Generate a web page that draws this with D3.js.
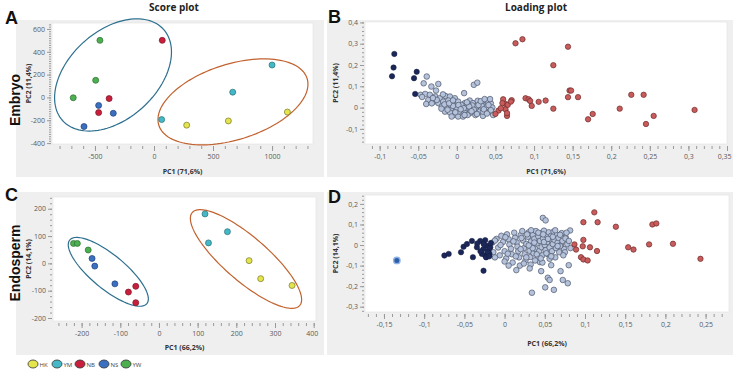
<!DOCTYPE html>
<html lang="en">
<head>
<meta charset="UTF-8">
<title>PCA score and loading plots</title>
<script src="https://d3js.org/d3.v7.min.js"></script>
<style>
body { margin: 0; background: #fff; }
text { font-family: "Open Sans", sans-serif; }
.tick line { stroke: #9a9a9a; }
.tick text { fill: #5a5a5a; font-size: 7px; }
</style>
</head>
<body>
<div id="chart"></div>
<script>
// ---- data ----
var groups = ["HK", "YM", "NB", "NS", "YW"];
var groupFill = ["#e4e44c", "#44b8c6", "#c8203c", "#3b6fc0", "#4caf50"];
var groupStroke = ["#77772a", "#2b7079", "#7a1324", "#203f78", "#2c6c2f"];

// score plot A (embryo): [PC1, PC2, group]
var embryoScores = [
  [277, -243, "HK"], [630, -206, "HK"], [1130, -128, "HK"],
  [65, -194, "YM"], [667, 46, "YM"], [1000, 284, "YM"],
  [70, 500, "NB"], [-380, -10, "NB"], [-469, -133, "NB"],
  [-469, -70, "NS"], [-345, -139, "NS"], [-593, -255, "NS"],
  [-458, 500, "YW"], [-494, 150, "YW"], [-684, -3, "YW"]
];
// score plot C (endosperm)
var endoScores = [
  [233, 10, "HK"], [263, -56, "HK"], [344, -81, "HK"],
  [119, 181, "YM"], [128, 75, "YM"], [177, 116, "YM"],
  [-79, -105, "NB"], [-60, -84, "NB"], [-60, -144, "NB"],
  [-173, 18, "NS"], [-166, -10, "NS"], [-114, -75, "NS"],
  [-221, 73, "YW"], [-211, 73, "YW"], [-183, 49, "YW"]
];
// confidence ellipses: centre, semi-axis vector u, semi-axis vector v (data units)
var embryoEllipses = [
  {c: [-347, 197], u: [428, 399], v: [-249, 287], color: "#2d6f8e"},
  {c: [669, -39], u: [628, 205], v: [-96, 316], color: "#c2622e"}
];
var endoEllipses = [
  {c: [-131, -31], u: [99.7, -116.5], v: [27.9, 48], color: "#2d6f8e"},
  {c: [225, 16], u: [139, -170], v: [37, 61], color: "#c2622e"}
];

// loading plot B (embryo)
var embryoLoadNavy = [[-0.081, 0.252], [-0.082, 0.188], [-0.084, 0.147], [-0.052, 0.168], [-0.0555, 0.138], [-0.054, 0.064]];
var embryoLoadGray = [
  [-0.039, 0.146], [-0.043, 0.114], [-0.033, 0.099], [-0.024, 0.111], [-0.027, 0.080], [0.022, 0.107], [0.0265, 0.117],
  [0.0094, 0.068], [-0.047, 0.060], [-0.041, 0.064], [-0.035, 0.060], [-0.028, 0.052], [-0.037, 0.036], [-0.030, 0.028],
  [-0.022, 0.044], [-0.015, 0.055], [-0.009, 0.052], [-0.0026, 0.044], [-0.024, 0.021], [-0.0176, 0.028], [-0.011, 0.033],
  [-0.0047, 0.021], [0.0017, 0.028], [0.0038, 0.005], [-0.0196, 0.005], [-0.0132, 0.005], [-0.0068, -0.003], [-0.0004, -0.011],
  [-0.0154, -0.019], [-0.009, -0.023], [-0.0026, -0.034], [0.006, -0.026], [0.0103, -0.011], [0.0145, 0.013], [0.0103, 0.021],
  [0.0167, 0.033], [0.0209, 0.021], [0.0188, -0.003], [0.0252, 0.005], [0.0295, 0.021], [0.0316, -0.003], [0.0359, 0.028],
  [0.038, 0.013], [0.040, 0.033], [0.0423, -0.003], [0.0368, -0.019], [0.0295, -0.019], [0.0231, -0.023], [0.0167, -0.026],
  [0.0017, -0.042], [0.008, -0.042], [-0.0068, -0.042], [0.0338, -0.039], [-0.0397, 0.017], [-0.0325, 0.02], [-0.026, 0.036],
  [0.0401, 0.028], [0.0381, 0.002], [0.0338, -0.019], [0.044, 0.02], [0.046, 0.0], [0.045, -0.02], [0.043, 0.04],
  [0.047, -0.035], [0.006, 0.012], [-0.008, 0.012], [0.012, 0.0], [0.027, 0.032], [-0.018, 0.062], [0.003, -0.018],
  [0.02, 0.01], [-0.012, -0.01], [0.032, 0.01], [0.0, 0.0], [0.014, -0.035], [0.024, -0.035],
  [-0.02, -0.005], [-0.016, 0.015], [-0.005, 0.008], [0.002, 0.012], [0.009, -0.003], [0.016, 0.005], [0.022, -0.01],
  [0.028, 0.012], [0.035, -0.008], [0.041, 0.012], [0.044, -0.012], [0.005, -0.008], [-0.01, 0.02], [0.013, 0.025],
  [0.026, -0.03], [0.031, 0.03], [-0.002, -0.022], [0.019, -0.017], [0.036, 0.04], [-0.031, 0.045], [-0.045, 0.05],
  [0.01, -0.035], [0.039, -0.028], [-0.005, 0.034]
];
var embryoLoadRed = [
  [0.076, 0.302], [0.085, 0.321], [0.144, 0.286], [0.125, 0.199], [0.146, 0.080], [0.148, 0.080], [0.144, 0.049],
  [0.157, 0.049], [0.060, 0.039], [0.071, 0.035], [0.089, 0.044], [0.093, 0.039], [0.095, 0.031], [0.097, 0.008],
  [0.106, 0.027], [0.115, 0.033], [0.063, 0.017], [0.063, -0.008], [0.054, -0.014], [0.050, -0.030], [0.065, -0.039],
  [0.125, -0.005], [0.226, 0.060], [0.242, 0.060], [0.176, -0.030], [0.170, -0.055], [0.211, -0.005], [0.255, -0.039],
  [0.245, -0.077], [0.308, -0.011], [0.059, 0.021], [0.066, 0.013], [0.057, -0.003], [0.065, -0.026], [0.070, 0.028]
];

// loading plot D (endosperm)
var endoLoadOutlier = [[-0.134, -0.075]];
var endoLoadNavy = [
  [-0.0749, -0.051], [-0.0695, -0.043], [-0.0542, -0.035], [-0.051, -0.008], [-0.0468, 0.005], [-0.0406, 0.02],
  [-0.0394, -0.059], [-0.0262, -0.125], [-0.0344, -0.011], [-0.0303, 0.02], [-0.0241, 0.024], [-0.0262, -0.019],
  [-0.0241, -0.051], [-0.02, -0.027], [-0.022, -0.003], [-0.0282, -0.043], [-0.0188, -0.043], [-0.026, 0.005],
  [-0.021, -0.035], [-0.018, -0.012], [-0.03, -0.03], [-0.023, -0.06], [-0.017, 0.01], [-0.034, 0.008], [-0.019, -0.055]
];
var endoLoadGray = [
  [-0.018, -0.01], [-0.015, 0.012], [-0.014, -0.035], [-0.01, 0.03], [-0.008, -0.012], [-0.006, -0.05], [-0.004, 0.045],
  [-0.002, 0.015], [0.0, -0.03], [0.002, -0.065], [0.003, 0.052], [0.005, 0.028], [0.006, 0.002], [0.008, -0.018],
  [0.009, -0.045], [0.01, -0.085], [0.012, 0.06], [0.013, 0.035], [0.015, 0.012], [0.016, -0.008], [0.017, -0.03],
  [0.018, -0.06], [0.019, -0.1], [0.02, 0.048], [0.022, 0.068], [0.023, 0.022], [0.024, -0.015], [0.025, -0.045],
  [0.026, -0.075], [0.027, 0.005], [0.029, 0.04], [0.03, 0.062], [0.031, -0.028], [0.032, -0.058], [0.033, 0.018],
  [0.034, -0.005], [0.035, 0.05], [0.036, -0.04], [0.037, 0.03], [0.038, -0.018], [0.039, 0.068], [0.04, 0.008],
  [0.041, -0.065], [0.042, 0.042], [0.043, -0.03], [0.044, 0.02], [0.045, 0.058], [0.046, -0.01], [0.047, -0.05],
  [0.048, 0.032], [0.049, 0.07], [0.05, 0.0], [0.051, -0.025], [0.052, 0.048], [0.053, 0.015], [0.054, -0.045],
  [0.055, 0.062], [0.056, -0.012], [0.057, 0.028], [0.058, 0.045], [0.059, -0.03], [0.06, 0.005], [0.061, 0.065],
  [0.062, 0.025], [0.063, -0.06], [0.064, -0.015], [0.065, 0.05], [0.066, 0.012], [0.067, 0.035], [0.068, -0.035],
  [0.07, 0.0], [0.071, 0.058], [0.072, 0.02], [0.074, -0.02], [0.076, 0.037], [0.078, 0.005], [0.075, -0.035],
  [0.0476, 0.132], [0.051, 0.12], [0.0815, 0.071], [0.0757, 0.032], [0.0324, -0.095], [0.0312, -0.114], [0.0146, -0.122],
  [0.0455, -0.127], [0.058, -0.098], [0.0538, -0.159], [0.056, -0.17], [0.0505, -0.206], [0.0613, -0.218], [0.034, -0.232],
  [0.0724, -0.17], [0.0786, -0.186], [0.0798, -0.098], [0.0696, -0.127], [0.044, -0.083], [0.056, -0.067], [0.0, -0.08],
  [0.005, -0.1], [0.024, -0.09], [0.038, -0.075], [0.047, -0.085], [-0.012, -0.06], [0.069, -0.005],
  [-0.012, 0.022], [-0.005, 0.0], [0.001, 0.038], [0.004, -0.042], [0.011, 0.018], [0.014, -0.055], [0.02, -0.02],
  [0.021, 0.034], [0.027, -0.06], [0.028, 0.052], [0.033, 0.072], [0.035, -0.015], [0.04, -0.045], [0.042, 0.06],
  [0.045, -0.065], [0.049, 0.015], [0.052, -0.04], [0.054, 0.03], [0.058, -0.055], [0.06, 0.04], [0.063, 0.072],
  [0.066, -0.005], [0.069, 0.05], [0.073, -0.05], [0.077, 0.06], [0.08, 0.02], [0.082, -0.015], [0.03, -0.002],
  [0.037, 0.012], [0.048, 0.052]
];
var endoLoadRed = [
  [0.1116, 0.159], [0.098, 0.111], [0.1157, 0.111], [0.1384, 0.089], [0.1838, 0.10], [0.1887, 0.105], [0.098, 0.025],
  [0.0869, 0.003], [0.0972, -0.006], [0.1062, -0.011], [0.0889, -0.022], [0.1149, -0.029], [0.1537, -0.011],
  [0.1603, -0.022], [0.1797, 0.003], [0.2094, 0.006], [0.095, -0.059], [0.098, -0.07], [0.1033, -0.075], [0.2436, -0.067]
];

// axis ticks
var embryoScoreXTicks = [-500, 0, 500, 1000];
var embryoScoreYTicks = [-400, -200, 0, 200, 400, 600];
var endoScoreXTicks = [-200, -100, 0, 100, 200, 300, 400];
var endoScoreYTicks = [-200, -100, 0, 100, 200];
var embryoLoadXTicks = [-0.1, -0.05, 0, 0.05, 0.1, 0.15, 0.2, 0.25, 0.3, 0.35];
var embryoLoadYTicks = [-0.1, 0, 0.1, 0.2, 0.3, 0.4];
var endoLoadXTicks = [-0.15, -0.1, -0.05, 0, 0.05, 0.1, 0.15, 0.2, 0.25];
var endoLoadYTicks = [-0.3, -0.2, -0.1, 0, 0.1, 0.2];

// ---- layout ----
var W = 733, H = 370;
var svg = d3.select("#chart").append("svg").attr("width", W).attr("height", H);

var fmtComma = v => (+v.toFixed(3)).toString().replace(".", ",");

function minorTicks(lo, hi, step) {
  var out = [];
  for (var i = Math.ceil(lo / step - 1e-9); i * step <= hi + 1e-9; i++) out.push(+(i * step).toFixed(4));
  return out;
}

function panel(cfg) {
  // grey frame and white plotting area
  svg.append("rect").attr("x", cfg.frame[0]).attr("y", cfg.frame[1])
    .attr("width", cfg.frame[2] - cfg.frame[0]).attr("height", cfg.frame[3] - cfg.frame[1])
    .attr("fill", "#efefef");
  svg.append("rect").attr("x", cfg.plot[0]).attr("y", cfg.plot[1])
    .attr("width", cfg.plot[2] - cfg.plot[0]).attr("height", cfg.plot[3] - cfg.plot[1])
    .attr("fill", "#fff").attr("stroke", "#e2e2e2").attr("stroke-width", 0.6);

  var x = d3.scaleLinear().domain(cfg.xDomain).range([cfg.plot[0], cfg.plot[2]]);
  var y = d3.scaleLinear().domain(cfg.yDomain).range([cfg.plot[3], cfg.plot[1]]);

  var ax = cfg.plot[3] + 2, ay = cfg.plot[0] - 1;
  svg.append("g").attr("transform", "translate(0," + ax + ")")
    .call(d3.axisBottom(x).tickValues(minorTicks(cfg.xDomain[0], cfg.xDomain[1], cfg.xMinor)).tickSize(3).tickFormat(""))
    .call(g => g.select(".domain").remove());
  var xg = svg.append("g").attr("transform", "translate(0," + ax + ")")
    .call(d3.axisBottom(x).tickValues(cfg.xTicks).tickSize(5).tickPadding(3).tickFormat(fmtComma))
    .call(g => g.select(".domain").remove());
  if (cfg.lastLabelEnd) xg.select(".tick:last-of-type text").attr("text-anchor", "end").attr("dx", 4);

  svg.append("g").attr("transform", "translate(" + ay + ",0)")
    .call(d3.axisLeft(y).tickValues(minorTicks(cfg.yDomain[0], cfg.yDomain[1], cfg.yMinor)).tickSize(2).tickFormat(""))
    .call(g => g.select(".domain").remove());
  svg.append("g").attr("transform", "translate(" + ay + ",0)")
    .call(d3.axisLeft(y).tickValues(cfg.yTicks).tickSize(4).tickPadding(2).tickFormat(fmtComma))
    .call(g => g.select(".domain").remove());

  var cx = (cfg.plot[0] + cfg.plot[2]) / 2, cy = (cfg.plot[1] + cfg.plot[3]) / 2;
  svg.append("text").attr("x", cx).attr("y", cfg.xTitleY).attr("text-anchor", "middle")
    .attr("font-size", 7).attr("font-weight", "bold").attr("fill", "#333").text(cfg.xTitle);
  svg.append("text").attr("transform", "translate(" + cfg.yTitleX + "," + cy + ") rotate(-90)")
    .attr("text-anchor", "middle").attr("font-size", 7).attr("font-weight", "bold").attr("fill", "#333").text(cfg.yTitle);

  svg.append("text").attr("x", cfg.letter[0]).attr("y", cfg.letter[1])
    .style("font-family", "'Liberation Sans', Arial, sans-serif").attr("font-size", 18)
    .attr("font-weight", "bold").attr("fill", "#111").text(cfg.letterText);
  return {x: x, y: y};
}

function drawEllipses(s, list) {
  var ts = d3.range(0, 2 * Math.PI + 0.001, Math.PI / 60);
  list.forEach(function(e) {
    var pts = ts.map(t => [e.c[0] + e.u[0] * Math.cos(t) + e.v[0] * Math.sin(t),
                           e.c[1] + e.u[1] * Math.cos(t) + e.v[1] * Math.sin(t)]);
    svg.append("path").datum(pts)
      .attr("d", d3.line().x(d => s.x(d[0])).y(d => s.y(d[1])))
      .attr("fill", "none").attr("stroke", e.color).attr("stroke-width", 1.2);
  });
}

function drawScores(s, data) {
  svg.append("g").selectAll("circle").data(data).join("circle")
    .attr("cx", d => s.x(d[0])).attr("cy", d => s.y(d[1])).attr("r", 3)
    .attr("fill", d => groupFill[groups.indexOf(d[2])])
    .attr("stroke", d => groupStroke[groups.indexOf(d[2])]).attr("stroke-width", 0.7);
}

function drawLoadings(s, data, fill, stroke, r, sw) {
  svg.append("g").selectAll("circle").data(data).join("circle")
    .attr("cx", d => s.x(d[0])).attr("cy", d => s.y(d[1])).attr("r", r)
    .attr("fill", fill).attr("stroke", stroke).attr("stroke-width", sw);
}

// A
var sA = panel({frame: [16, 20, 324, 177], plot: [52, 23, 313, 144],
  xDomain: [-864, 1347], yDomain: [-408, 652], xTicks: embryoScoreXTicks, yTicks: embryoScoreYTicks,
  xMinor: 100, yMinor: 20, xTitle: "PC1 (71,6%)", yTitle: "PC2 (11,4%)", xTitleY: 174, yTitleX: 31,
  letter: [5, 24], letterText: "A"});
drawEllipses(sA, embryoEllipses);
drawScores(sA, embryoScores);

// B
var sB = panel({frame: [327, 20, 733, 177], plot: [365, 22, 727, 144],
  xDomain: [-0.119, 0.35], yDomain: [-0.171, 0.402], xTicks: embryoLoadXTicks, yTicks: embryoLoadYTicks,
  xMinor: 0.01, yMinor: 0.02, xTitle: "PC1 (71,6%)", yTitle: "PC2 (11,4%)", xTitleY: 174, yTitleX: 338,
  letter: [328, 23], letterText: "B", lastLabelEnd: true});
drawLoadings(sB, embryoLoadGray, "#b4c2db", "#4d5668", 2.8, 0.7);
drawLoadings(sB, embryoLoadRed, "#c85c5c", "#6e2b2b", 2.7, 0.7);
drawLoadings(sB, embryoLoadNavy, "#1c2759", "#141c40", 2.7, 0.5);

// C
var sC = panel({frame: [16, 192, 324, 355], plot: [53, 197, 316, 321],
  xDomain: [-274, 406], yDomain: [-211, 243], xTicks: endoScoreXTicks, yTicks: endoScoreYTicks,
  xMinor: 20, yMinor: 20, xTitle: "PC1 (66,2%)", yTitle: "PC2 (14,1%)", xTitleY: 350, yTitleX: 31,
  letter: [5, 201], letterText: "C", lastLabelEnd: true});
drawEllipses(sC, endoEllipses);
drawScores(sC, endoScores);

// D
var sD = panel({frame: [327, 192, 733, 355], plot: [365, 195, 729, 312],
  xDomain: [-0.1736, 0.2791], yDomain: [-0.3257, 0.2434], xTicks: endoLoadXTicks, yTicks: endoLoadYTicks,
  xMinor: 0.01, yMinor: 0.02, xTitle: "PC1 (66,2%)", yTitle: "PC2 (14,1%)", xTitleY: 346, yTitleX: 338,
  letter: [328, 203], letterText: "D"});
drawLoadings(sD, endoLoadGray, "#b4c2db", "#4d5668", 2.8, 0.7);
drawLoadings(sD, endoLoadRed, "#c85c5c", "#6e2b2b", 2.7, 0.7);
drawLoadings(sD, endoLoadNavy, "#1c2759", "#141c40", 2.7, 0.5);
drawLoadings(sD, endoLoadOutlier, "#2d5ea8", "#8db3e6", 3.2, 1.4);

// headings
svg.append("text").attr("x", 174).attr("y", 11).attr("text-anchor", "middle")
  .attr("font-size", 10).attr("font-weight", "bold").attr("fill", "#222").text("Score plot");
svg.append("text").attr("x", 536).attr("y", 11).attr("text-anchor", "middle")
  .attr("font-size", 10).attr("font-weight", "bold").attr("fill", "#222").text("Loading plot");

[["Embryo", 100], ["Endosperm", 263]].forEach(function(r) {
  svg.append("text").attr("transform", "translate(20," + r[1] + ") rotate(-90)")
    .attr("text-anchor", "middle").style("font-family", "'Liberation Sans', Arial, sans-serif")
    .attr("font-size", 14).attr("font-weight", "bold").attr("fill", "#111").text(r[0]);
});

// legend
var legendX = [33, 57, 80, 104, 126];
var lg = svg.append("g");
groups.forEach(function(gname, i) {
  lg.append("ellipse").attr("cx", legendX[i]).attr("cy", 364).attr("rx", 5).attr("ry", 4)
    .attr("fill", groupFill[i]).attr("stroke", "#333").attr("stroke-width", 0.8);
  lg.append("text").attr("x", legendX[i] + 6.5).attr("y", 366.5).attr("font-size", 6)
    .attr("fill", "#444").text(gname);
});
</script>
</body>
</html>
